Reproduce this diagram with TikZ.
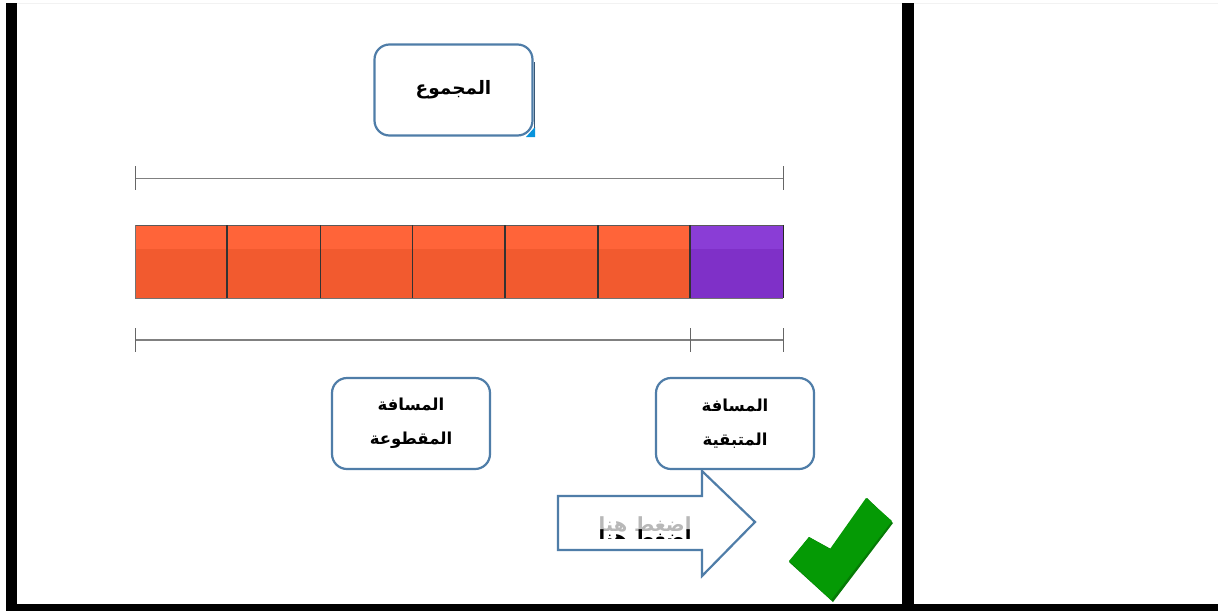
\documentclass[tikz,border=0pt]{standalone}
\usepackage{fontspec}
\TeXXeTstate=1
\newfontfamily\arabicfont[Script=Arabic]{DejaVu Sans}
\definecolor{boxblue}{HTML}{4F7DA8}
\definecolor{redhi}{HTML}{FF6439}
\definecolor{redlo}{HTML}{F25A2F}
\definecolor{purhi}{HTML}{8A3DD6}
\definecolor{purlo}{HTML}{7F30C8}
\definecolor{chkgreen}{HTML}{059A05}
\definecolor{chkdark}{HTML}{067A06}
\tikzset{
  labelbox/.style={draw=boxblue,line width=2.2pt,rounded corners=15pt,fill=white,minimum width=158pt,minimum height=91pt,inner sep=0pt,align=center,font=\arabicfont\bfseries\fontsize{16.5}{34}\selectfont},
  frame/.style={fill=black,draw=none},
  tick/.style={draw=black!60,line width=1pt},
  measure/.style={draw=black!50,line width=1pt},
  presstext/.style={inner sep=0pt,font=\arabicfont\bfseries\fontsize{19.5}{22}\selectfont}
}
\begin{document}
\begin{tikzpicture}[x=1pt,y=-1pt]
\useasboundingbox (0,0) rectangle (1218,611);
\fill[white] (0,0) rectangle (1218,611);
% window frame
\draw[black!5,line width=1pt] (17,3.5) -- (1218,3.5);
\fill[frame] (6,3) rectangle (17,611);
\fill[frame] (902,3) rectangle (914,611);
\fill[frame] (6,604) rectangle (1218,611);
% bar
\fill[redlo] (135,225) rectangle (690,298);
\fill[redhi] (135,225) rectangle (690,249);
\fill[purlo] (690,225) rectangle (783,298);
\fill[purhi] (690,225) rectangle (783,249);
\draw[black!65,line width=1pt] (135,225) -- (783,225);
\draw[black!55,line width=1pt] (135,298) -- (783,298) (135,225) -- (135,298);
\foreach \sx/\sw in {227/1.6,320.5/1,412.5/1.3,505/1.3,598/1.2,690/1.2}
  \draw[black!80,line width=\sw pt] (\sx,225) -- (\sx,298);
\draw[black!85,line width=1.2pt] (783.5,225) -- (783.5,298);
% measures
\coordinate (tl) at (135,178); \coordinate (tr) at (783,178);
\draw[measure] (tl) -- (tr);
\draw[tick] (135,166) -- (135,190);
\draw[tick] (783,166) -- (783,190);
\coordinate (bl) at (135,340); \coordinate (bm) at (690,340); \coordinate (br) at (783,340);
\draw[measure,line width=1.6pt] (bl) -- (br);
\draw[tick] (135,328) -- (135,352);
\draw[tick] (690,328) -- (690,352);
\draw[tick] (783,328) -- (783,352);
% total box with cyan corner
\fill[cyan!80!blue] (526,137) -- (535,137) -- (535,127) -- cycle;
\draw[boxblue!70!black,line width=1pt] (534.5,62) -- (534.5,128);
\node[labelbox,font=\arabicfont\bfseries\fontsize{18.5}{34}\selectfont] (total) at (453.5,90) {\beginR المجموع\endR};
\node[labelbox] (done) at (411,423.5) {\beginR المسافة\endR\\\beginR المقطوعة\endR};
\node[labelbox] (left) at (735,423.5) {\beginR المسافة\endR\\\beginR المتبقية\endR};
% arrow
\draw[boxblue,line width=2.2pt,fill=white,line join=miter]
  (558,496) -- (702,496) -- (702,471) -- (755,522) -- (702,576) -- (702,550) -- (558,550) -- cycle;
\node[presstext,text=black!28] (ghost) at (645,524) {\beginR اضغط هنا\endR};
\begin{scope}
\clip (590,500) rectangle (700,538);
\node[presstext,text=black] (press) at (645,537) {\beginR اضغط هنا\endR};
\end{scope}
% check mark
\fill[chkdark] (789,562) -- (809,537) -- (831,549) -- (867,498) -- (893,523) -- (833,602) -- cycle;
\fill[chkgreen] (789,561) -- (809,537) -- (830,549) -- (866,498) -- (892,521) -- (831,600) -- cycle;
\end{tikzpicture}
\end{document}
